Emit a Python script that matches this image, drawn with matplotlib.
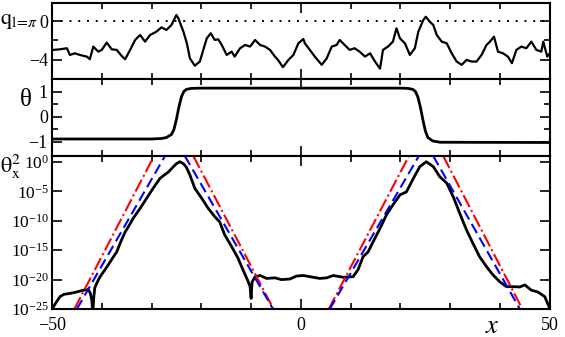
import numpy as np
import matplotlib
matplotlib.use("Agg")
import matplotlib.pyplot as plt
from matplotlib.ticker import MultipleLocator, FixedLocator, NullLocator, LogFormatterSciNotation

plt.rcParams['font.family'] = ['Liberation Serif', 'DejaVu Serif']
plt.rcParams['mathtext.fontset'] = 'stix'

# top panel: q_{l=pi}(x)
q_x = [-49.7, -48.4, -47.0, -46.4, -45.4, -44.4, -43.0, -42.4, -41.7, -40.7,
       -40.0, -39.0, -38.0, -37.0, -36.0, -35.3, -34.3, -33.3, -32.3, -31.3,
       -30.3, -29.0, -28.0, -27.0, -26.0, -25.0, -24.6, -23.6, -22.9, -22.3,
       -21.3, -20.3, -19.6, -18.9, -18.1, -17.3, -16.6, -15.9, -14.9, -13.9,
       -13.3, -12.2, -11.2, -10.2, -9.2, -8.2, -7.2, -6.2, -5.2, -4.6,
       -3.6, -2.5, -1.5, -0.5, 0.5, 0.8, 1.8, 2.8, 4.2, 5.2,
       6.2, 7.2, 7.8, 8.8, 9.8, 10.8, 11.8, 12.9, 13.9, 14.9,
       15.9, 16.5, 17.5, 18.5, 19.2, 19.9, 20.9, 21.9, 22.9, 23.6,
       24.6, 25.1, 25.9, 26.6, 27.3, 28.3, 29.3, 30.3, 31.3, 32.3,
       33.3, 34.3, 35.3, 36.3, 37.3, 38.0, 38.8, 39.6, 40.6, 41.6,
       42.4, 43.3, 44.3, 45.3, 46.3, 47.3, 48.3, 48.7, 49.5, 50.0]
q_val = [-2.97, -2.91, -2.80, -3.49, -3.32, -3.49, -3.66, -3.93, -2.63, -3.15,
         -2.97, -2.22, -2.91, -2.97, -3.59, -3.93, -2.97, -1.95, -1.44, -2.12,
         -1.44, -1.09, -0.65, -0.92, -0.41, 0.62, 0.27, -1.09, -2.29, -3.83,
         -4.60, -4.17, -2.97, -1.78, -1.26, -1.95, -1.88, -2.46, -3.49, -3.15,
         -3.66, -2.80, -2.46, -2.63, -1.95, -2.46, -2.63, -2.97, -3.66, -4.00,
         -4.75, -4.00, -3.49, -2.29, -1.85, -2.29, -2.97, -3.66, -4.51, -3.83,
         -2.63, -2.46, -1.95, -2.46, -2.97, -2.80, -3.15, -3.66, -3.32, -4.17,
         -4.90, -2.97, -2.63, -2.12, -0.75, -1.78, -2.29, -3.49, -2.80, -1.09,
         0.10, 0.44, -0.07, -0.41, -1.44, -2.12, -2.29, -3.32, -4.17, -4.51,
         -4.00, -4.17, -4.17, -3.49, -2.46, -2.12, -1.61, -3.15, -3.32, -3.66,
         -4.34, -2.97, -2.63, -2.80, -2.12, -2.97, -3.15, -2.12, -3.66, -3.32]

# middle panel: theta(x)
th_x = [-50, -30, -28, -27, -26, -25.5, -25, -24.5, -24, -23.5, -23, -22, -20,
        20, 21.5, 22.5, 23, 23.5, 24, 24.5, 25, 25.5, 26.5, 28, 50]
th_val = [-0.88, -0.88, -0.86, -0.82, -0.70, -0.50, -0.10, 0.40, 0.80, 1.02, 1.10, 1.14, 1.15,
          1.15, 1.14, 1.10, 1.02, 0.80, 0.40, -0.10, -0.55, -0.82, -0.96, -1.01, -1.02]

# bottom panel: log10(theta_x^2)
d_x = [-50.0, -49.7, -49.1, -48.4, -47.6, -46.4, -45.0, -43.7, -42.7, -42.3,
       -42.0, -41.8, -41.6, -41.4, -41.0, -40.4, -39.5, -38.7, -37.8, -37.0,
       -36.2, -35.3, -34.5, -33.7, -32.3, -31.0, -29.7, -28.3, -27.4, -26.6,
       -25.6, -25.0, -24.3, -23.6, -23.0, -22.3, -21.3, -19.9, -18.6, -17.3,
       -16.3, -15.3, -13.9, -12.6, -11.6, -10.7, -10.2, -10.0, -9.8, -9.2,
       -8.2, -6.9, -5.2, -3.9, -2.2, -0.9, 0.5, 1.8, 3.8, 5.2,
       6.5, 8.5, 10.5, 11.5, 12.5, 13.5, 14.5, 15.9, 17.2, 18.5,
       19.9, 21.2, 22.6, 23.9, 25.2, 26.6, 27.9, 29.3, 30.6, 31.9,
       33.3, 34.6, 35.9, 37.3, 38.6, 40.0, 41.3, 42.6, 44.0, 45.0,
       46.3, 47.6, 49.0, 50.0]
d_log = [-25.2, -24.6, -23.8, -22.9, -22.5, -22.35, -22.1, -21.8, -21.7, -22.3,
         -23.5, -26.0, -23.0, -21.4, -20.6, -19.6, -18.5, -17.5, -16.3, -15.3,
         -13.6, -11.9, -10.8, -9.6, -7.9, -6.2, -4.5, -2.8, -2.2, -1.7,
         -0.8, -0.3, 0.03, -0.3, -0.9, -2.2, -4.5, -6.2, -7.9, -9.3,
         -10.2, -12.4, -14.4, -16.4, -18.4, -20.1, -21.2, -23.2, -20.4, -19.5,
         -19.3, -19.8, -19.7, -20.0, -19.9, -19.4, -19.3, -19.5, -19.8, -19.7,
         -19.3, -19.6, -19.5, -18.3, -16.1, -15.3, -13.6, -11.3, -9.0, -7.3,
         -5.6, -5.1, -2.8, -0.8, 0.03, -0.8, -2.5, -3.6, -5.9, -8.7,
         -11.6, -13.9, -16.1, -17.8, -19.2, -20.4, -21.2, -21.2, -21.25, -20.9,
         -21.8, -22.1, -22.9, -24.9]

# exponential fits: segments (x0, x1) going from 1e-25 up to 1e1 and back
red_segs = [(-45.5, -29.5), (-21.6, -5.5), (5.6, 21.7), (28.6, 44.5)]
blue_segs = [(-45.0, -27.3), (-23.3, -5.6), (5.8, 23.7), (26.6, 44.0)]
seg_logs = [(-25, 1), (1, -25), (-25, 1), (1, -25)]

fig = plt.figure(figsize=(5.65, 3.37), dpi=100)
left, width = 0.092, 0.881
ax1 = fig.add_axes([left, 0.766, width, 0.225])
ax2 = fig.add_axes([left, 0.537, width, 0.229])
ax3 = fig.add_axes([left, 0.083, width, 0.454])

for ax in (ax1, ax2, ax3):
    ax.set_xlim(-50, 50)
    ax.xaxis.set_major_locator(MultipleLocator(50))
    ax.xaxis.set_minor_locator(MultipleLocator(10))
    ax.tick_params(which='both', direction='in', top=True, right=True, width=1.2)
    ax.tick_params(which='major', length=7, labelsize=13, pad=3)
    ax.tick_params(which='minor', length=4)
    for s in ax.spines.values():
        s.set_linewidth(1.5)

ax1.plot(q_x, q_val, color='black', lw=1.6)
ax1.axhline(0, color='black', ls=(0, (1, 3.5)), lw=1.4)
ax1.set_ylim(-5.95, 1.85)
ax1.yaxis.set_major_locator(FixedLocator([-4, 0]))
ax1.yaxis.set_minor_locator(FixedLocator([-2]))
ax1.tick_params(labelbottom=False)

ax2.plot(th_x, th_val, color='black', lw=2)
ax2.set_ylim(-1.56, 1.52)
ax2.yaxis.set_major_locator(FixedLocator([-1, 0, 1]))
ax2.yaxis.set_minor_locator(FixedLocator([-0.5, 0.5]))
ax2.tick_params(labelbottom=False)

ax3.set_yscale('log')
ax3.plot(d_x, 10.0 ** np.array(d_log), color='black', lw=2)
for (xa, xb), (la, lb) in zip(red_segs, seg_logs):
    ax3.plot([xa, xb], [10.0 ** la, 10.0 ** lb], color='red', ls='-.', lw=1.5)
for (xa, xb), (la, lb) in zip(blue_segs, seg_logs):
    ax3.plot([xa, xb], [10.0 ** la, 10.0 ** lb], color='blue', ls=(0, (5, 2.5)), lw=1.5)
ax3.set_ylim(1e-25, 1e1)
ax3.yaxis.set_major_locator(FixedLocator([1e-25, 1e-20, 1e-15, 1e-10, 1e-5, 1e0]))
ax3.yaxis.set_major_formatter(LogFormatterSciNotation())
ax3.yaxis.set_minor_locator(NullLocator())
ax3.tick_params(axis='y', labelsize=12.5, pad=2)
ax3.tick_params(axis='x', labelsize=13, pad=6)

fig.text(0.0, 0.935, r'$\mathrm{q}_{\mathrm{l}\!=\!\pi}$', fontsize=16, ha='left', va='center')
fig.text(0.035, 0.703, 'θ', fontsize=18, ha='left', va='center')
fig.text(0.0, 0.505, r'$\mathrm{\theta}_{\mathrm{x}}^{2}$', fontsize=16, ha='left', va='center')
fig.text(0.872, 0.03, r'$x$', fontsize=19, ha='center', va='center')

fig.savefig('out.png', dpi=100)
